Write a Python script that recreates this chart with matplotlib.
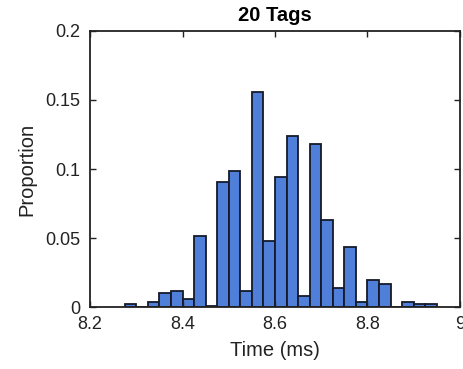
import numpy as np
import matplotlib
matplotlib.use('Agg')
import matplotlib.pyplot as plt

plt.rcParams['font.family'] = ['Liberation Sans', 'DejaVu Sans']

# bin left edges (ms), width 0.025
bin_start = 8.275
bin_width = 0.025
proportion = [0.0022, 0.0, 0.0041, 0.0101, 0.012, 0.0058, 0.0516, 0.0008,
              0.0908, 0.0986, 0.012, 0.156, 0.048, 0.094, 0.124, 0.008,
              0.118, 0.063, 0.014, 0.0434, 0.0036, 0.0198, 0.0166, 0.0,
              0.004, 0.0022, 0.0022]
edges = bin_start + bin_width * np.arange(len(proportion))

fig = plt.figure(figsize=(4.63, 3.69), dpi=100)
ax = fig.add_axes([0.1944, 0.1672, 0.7991, 0.7496])
ax.bar(edges, proportion, width=bin_width, align='edge',
       color='#4f7fd8', edgecolor='#141a2a', linewidth=1.3)

ax.set_xlim(8.2, 9.0)
ax.set_ylim(0, 0.2)
ax.set_xticks([8.2, 8.4, 8.6, 8.8, 9.0])
ax.set_xticklabels(['8.2', '8.4', '8.6', '8.8', '9'])
ax.set_yticks([0, 0.05, 0.1, 0.15, 0.2])
ax.set_yticklabels(['0', '0.05', '0.1', '0.15', '0.2'])
ax.tick_params(direction='in', top=True, right=True, labelsize=13,
               length=4, width=1, colors='#222222')
ax.tick_params(axis='y', pad=7)
ax.tick_params(axis='x', pad=6)
for s in ax.spines.values():
    s.set_linewidth(1.3)
    s.set_color('#222222')

ax.set_xlabel('Time (ms)', fontsize=14.5, color='#222222', labelpad=6)
ax.set_ylabel('Proportion', fontsize=14.5, color='#222222', labelpad=6)
ax.set_title('20 Tags', fontsize=14.5, fontweight='bold', pad=7)

fig.savefig('out.png', dpi=100)
